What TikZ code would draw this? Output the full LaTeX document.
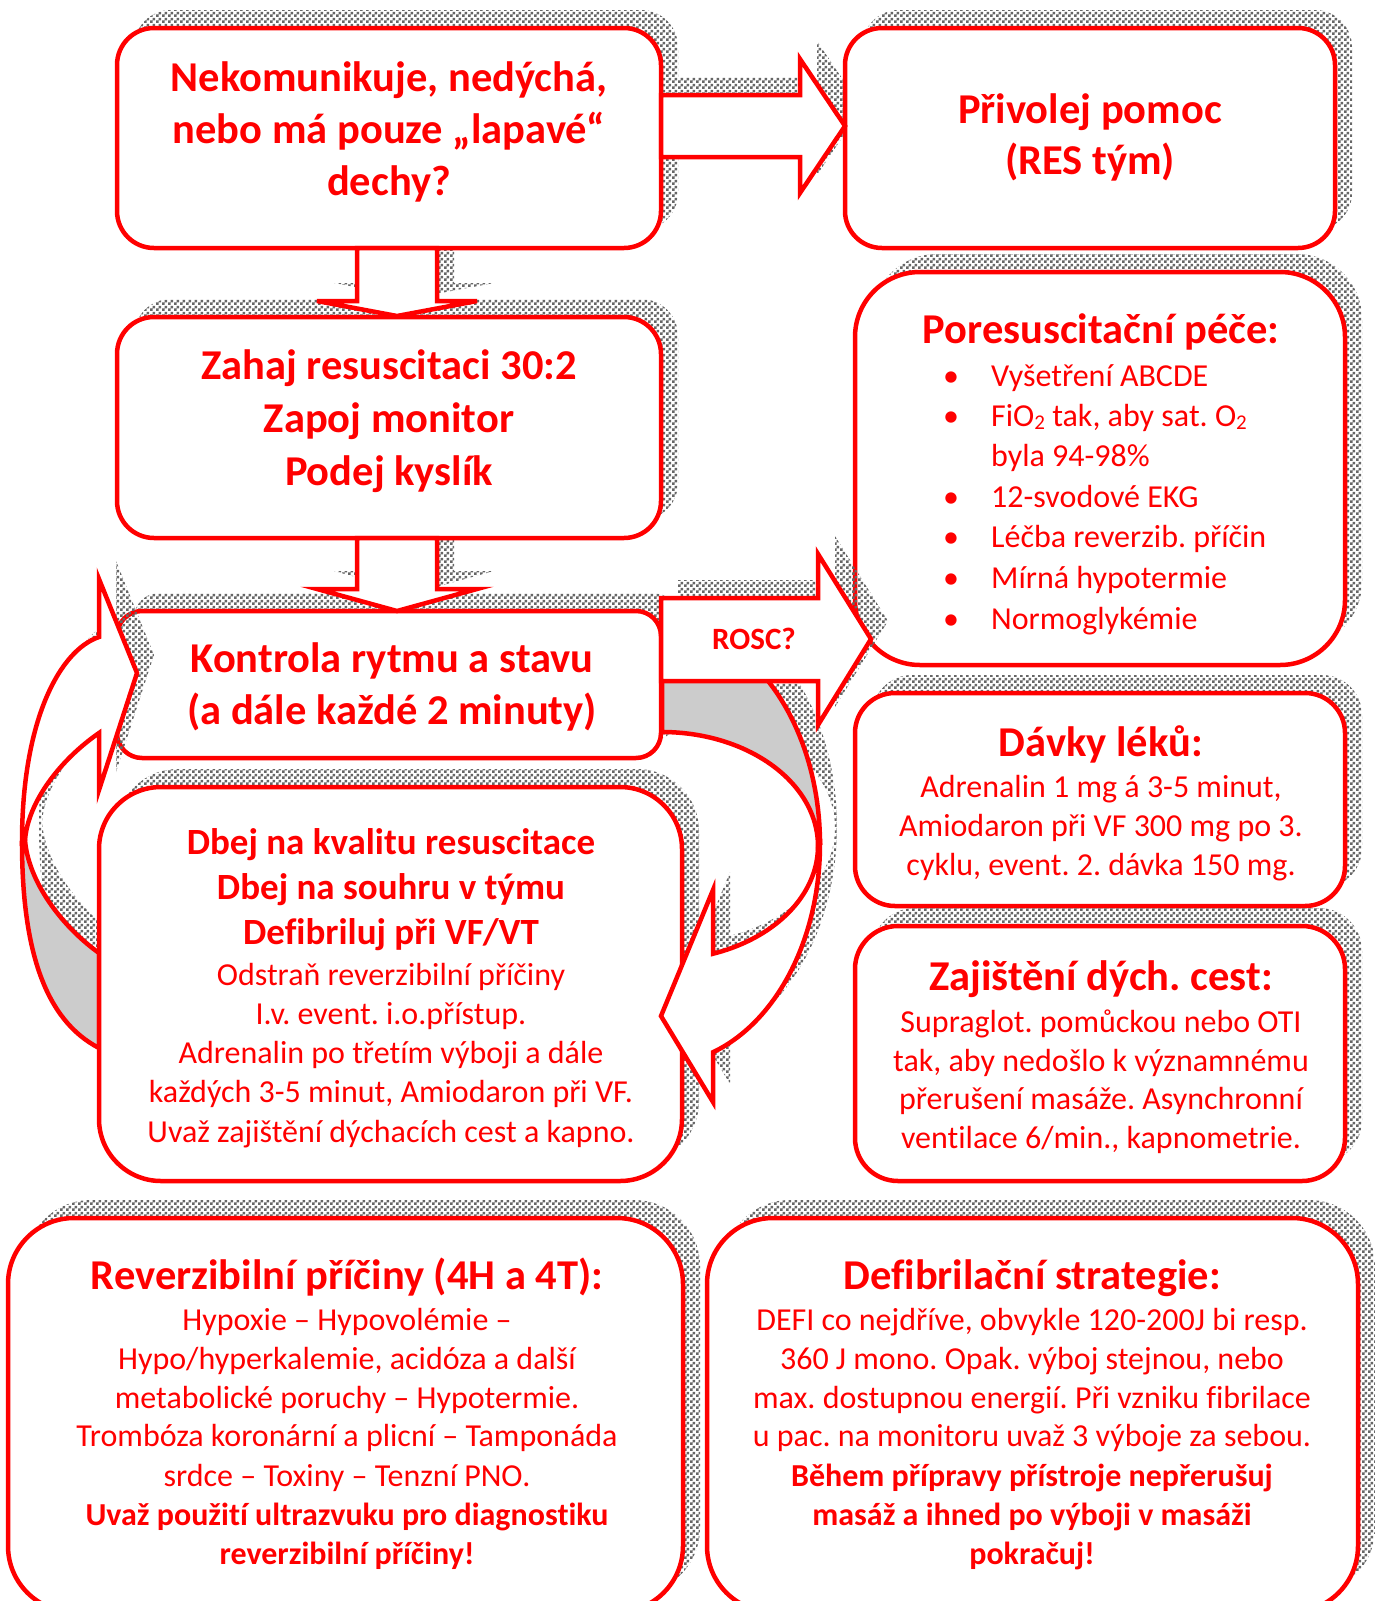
\documentclass[tikz,border=0pt]{standalone}
\usepackage{fontspec}
\setmainfont{Carlito}[Ligatures={NoCommon}]
\usetikzlibrary{patterns,shadows}
\pgfdeclarepatternformonly{fchecker}{\pgfpointorigin}{\pgfqpoint{6pt}{6pt}}{\pgfqpoint{6pt}{6pt}}{%
  \pgfpathrectangle{\pgfpointorigin}{\pgfqpoint{3pt}{3pt}}%
  \pgfpathrectangle{\pgfqpoint{3pt}{3pt}}{\pgfqpoint{3pt}{3pt}}%
  \pgfusepath{fill}}
\definecolor{rd}{RGB}{255,0,0}
\definecolor{under}{RGB}{204,204,204}
\newcommand\subtwo{{\fontsize{21}{21}\selectfont\raisebox{-3pt}{2}}}
\begin{document}
\frenchspacing
\begin{tikzpicture}[x=1pt,y=-1pt,
  sh/.style={pattern=fchecker, pattern color=black!60},
  box/.style={draw=rd, line width=4.5pt, fill=white, inner sep=0pt, outer sep=0pt,
    rounded corners=#1,
    general shadow={shadow xshift=17pt, shadow yshift=18pt, draw=none, sh}},
  arrowshape/.style={draw=rd, line width=4.5pt, fill=white, line join=miter},
  undershape/.style={draw=rd, line width=4.5pt, fill=under, line join=miter},
  hd/.style={font=\fontsize{42.5}{52}\selectfont\bfseries, text=rd, anchor=base, inner sep=0pt},
  hdb/.style={font=\fontsize{37}{45}\selectfont\bfseries, text=rd, anchor=base, inner sep=0pt},
  bd/.style={font=\fontsize{32}{39}\selectfont, text=rd, anchor=base, inner sep=0pt},
  bdb/.style={font=\fontsize{32}{39}\selectfont\bfseries, text=rd, anchor=base, inner sep=0pt},
  ]
\fill[white] (0,0) rectangle (1375,1601);
\useasboundingbox (0,0) rectangle (1375,1601);

% shadows of the straight block arrows (under the boxes)
\begin{scope}[shift={(17,-18)}]
  \fill[sh] (357,248) -- (357,301) -- (317,301) -- (397,316) -- (477,301) -- (437,301) -- (437,248) -- cycle;
  \fill[sh] (357,538) -- (357,589) -- (317,589) -- (397,611) -- (477,589) -- (437,589) -- (437,538) -- cycle;
  \fill[sh] (661,95) -- (800,95) -- (800,59) -- (845,126) -- (800,193) -- (800,157) -- (661,157) -- cycle;
\end{scope}

% boxes
\node[box=37pt, minimum width=544pt, minimum height=220pt] (b1) at (389,138) {};
\node[box=37pt, minimum width=490pt, minimum height=220pt] (b2) at (1090,138) {};
\node[box=37pt, minimum width=544pt, minimum height=221pt] (b3) at (389,427.5) {};
\node[box=25pt, minimum width=544pt, minimum height=147pt] (b4) at (389,684.5) {};
\node[box=65pt, minimum width=490pt, minimum height=393pt] (b6) at (1100,468.5) {};
\node[box=40pt, minimum width=490pt, minimum height=213pt] (b7) at (1100,799.5) {};
\node[box=43pt, minimum width=490pt, minimum height=255pt] (b8) at (1100,1053.5) {};
\node[box=66pt, minimum width=675pt, minimum height=394pt] (b9) at (345.5,1415) {};
\node[box=66pt, minimum width=651pt, minimum height=394pt] (b10) at (1032.5,1415) {};

% straight block arrows
\draw[arrowshape] (357,248) -- (357,301) -- (317,301) -- (397,316) -- (477,301) -- (437,301) -- (437,248) -- cycle;
\draw[arrowshape] (357,538) -- (357,589) -- (317,589) -- (397,611) -- (477,589) -- (437,589) -- (437,538) -- cycle;
\draw[arrowshape] (661,95) -- (800,95) -- (800,59) -- (845,126) -- (800,193) -- (800,157) -- (661,157) -- cycle;

% left curved arrow
\begin{scope}[shift={(17,-18)}]
  \fill[sh] (22,842) .. controls (22,720) and (60,650) .. (99,637) -- (99,579) -- (137,673) -- (99,790) -- (99,733)
     .. controls (60,760) and (28,802) .. (25,840) -- cycle;
  \fill[sh] (22,842) .. controls (22,950) and (45,1020) .. (99,1048) -- (99,953)
     .. controls (60,925) and (28,880) .. (25,840) -- cycle;
\end{scope}
\draw[arrowshape] (22,842) .. controls (22,720) and (60,650) .. (99,637) -- (99,579) -- (137,673) -- (99,790) -- (99,733)
   .. controls (60,760) and (28,802) .. (25,840) -- cycle;
\draw[undershape] (22,842) .. controls (22,950) and (45,1020) .. (99,1048) -- (99,953)
   .. controls (60,925) and (28,880) .. (25,840) -- cycle;

\node[box=62pt, minimum width=583pt, minimum height=394pt] (b5) at (390.5,984) {};

% right curved arrow
\begin{scope}[shift={(17,-18)}]
  \fill[sh] plot[domain=-90:0, samples=50] ({662+158*cos(\x)},{844+220*sin(\x)})
     -- plot[domain=0:-90, samples=50] ({662+156*cos(\x)},{846+114*sin(\x)}) -- cycle;
  \fill[sh] plot[domain=0:71.17, samples=50] ({662+158*cos(\x)},{844+220*sin(\x)}) -- (713,1102) -- (661,1016) -- (713,890)
     -- plot[domain=70.92:0, samples=50] ({662+156*cos(\x)},{846+114*sin(\x)}) -- cycle;
\end{scope}
\draw[undershape] plot[domain=-90:0, samples=50] ({662+158*cos(\x)},{844+220*sin(\x)})
   -- plot[domain=0:-90, samples=50] ({662+156*cos(\x)},{846+114*sin(\x)}) -- cycle;
\draw[arrowshape] plot[domain=0:71.17, samples=50] ({662+158*cos(\x)},{844+220*sin(\x)}) -- (713,1102) -- (661,1016) -- (713,890)
   -- plot[domain=70.92:0, samples=50] ({662+156*cos(\x)},{846+114*sin(\x)}) -- cycle;

% ROSC arrow
\fill[sh, shift={(17,-18)}] (661,598) -- (818,598) -- (818,554) -- (871,639) -- (818,725) -- (818,681) -- (661,681) -- cycle;
\draw[arrowshape] (661,598) -- (818,598) -- (818,554) -- (871,639) -- (818,725) -- (818,681) -- (661,681) -- cycle;
\node[font=\fontsize{31}{38}\selectfont\bfseries, text=rd, anchor=base, inner sep=0pt] (rosc) at (754,649) {ROSC?};

% texts
\node[hd] (t1a) at (389,91) {Nekomunikuje, nedýchá,};
\node[hd] (t1b) at (389,143) {nebo má pouze „lapavé“};
\node[hd] (t1c) at (389,195) {dechy?};

\node[hd] (t2a) at (1090,123) {Přivolej pomoc};
\node[hd] (t2b) at (1090,174) {(RES tým)};

\node[hd] (t3a) at (389,379) {Zahaj resuscitaci 30:2};
\node[hd] (t3b) at (389,432) {Zapoj monitor};
\node[hd] (t3c) at (389,485) {Podej kyslík};

\node[hd] (t4a) at (392,672) {Kontrola rytmu a stavu};
\node[hd] (t4b) at (392,724) {(a dále každé 2 minuty)};

\node[hdb] (t5a) at (391,854) {Dbej na kvalitu resuscitace};
\node[hdb] (t5b) at (391,899) {Dbej na souhru v týmu};
\node[hdb] (t5c) at (391,944) {Defibriluj při VF/VT};
\node[bd] (t5d) at (391,985.5) {Odstraň reverzibilní příčiny};
\node[bd] (t5e) at (391,1024.5) {I.v. event. i.o.přístup.};
\node[bd] (t5f) at (391,1063.5) {Adrenalin po třetím výboji a dále};
\node[bd] (t5g) at (391,1102.5) {každých 3-5 minut, Amiodaron při VF.};
\node[bd] (t5h) at (391,1142.5) {Uvaž zajištění dýchacích cest a kapno.};

\node[hd] (t6h) at (1101,343) {Poresuscitační péče:};
\node[bd] (t6b1) at (951,386.5) {•};
\node[bd, anchor=base west] (t6i1) at (991,386.5) {Vyšetření ABCDE};
\node[bd] (t6b2) at (951,426.5) {•};
\node[bd, anchor=base west] (t6i2) at (991,426.5) {FiO\subtwo{} tak, aby sat. O\subtwo};
\node[bd, anchor=base west] (t6i2b) at (991,466.5) {byla 94-98\%};
\node[bd] (t6b3) at (951,507.5) {•};
\node[bd, anchor=base west] (t6i3) at (991,507.5) {12-svodové EKG};
\node[bd] (t6b4) at (951,547.5) {•};
\node[bd, anchor=base west] (t6i4) at (991,547.5) {Léčba reverzib. příčin};
\node[bd] (t6b5) at (951,588.5) {•};
\node[bd, anchor=base west] (t6i5) at (991,588.5) {Mírná hypotermie};
\node[bd] (t6b6) at (951,629.5) {•};
\node[bd, anchor=base west] (t6i6) at (991,629.5) {Normoglykémie};

\node[hd] (t7h) at (1101,756) {Dávky léků:};
\node[bd] (t7a) at (1101,797.5) {Adrenalin 1 mg á 3-5 minut,};
\node[bd] (t7b) at (1101,836.5) {Amiodaron při VF 300 mg po 3.};
\node[bd] (t7c) at (1101,875.5) {cyklu, event. 2. dávka 150 mg.};

\node[hd] (t8h) at (1101,990) {Zajištění dých. cest:};
\node[bd] (t8a) at (1101,1032.5) {Supraglot. pomůckou nebo OTI};
\node[bd] (t8b) at (1101,1071.5) {tak, aby nedošlo k významnému};
\node[bd] (t8c) at (1101,1109.5) {přerušení masáže. Asynchronní};
\node[bd] (t8d) at (1101,1148.5) {ventilace 6/min., kapnometrie.};

\node[hd] (t9h) at (347,1289) {Reverzibilní příčiny (4H a 4T):};
\node[bd] (t9a) at (347,1330.5) {Hypoxie – Hypovolémie –};
\node[bd] (t9b) at (347,1369.5) {Hypo/hyperkalemie, acidóza a další};
\node[bd] (t9c) at (347,1408.5) {metabolické poruchy – Hypotermie.};
\node[bd] (t9d) at (347,1446.5) {Trombóza koronární a plicní – Tamponáda};
\node[bd] (t9e) at (347,1486.5) {srdce – Toxiny – Tenzní PNO.};
\node[bdb] (t9f) at (347,1525.5) {Uvaž použití ultrazvuku pro diagnostiku};
\node[bdb] (t9g) at (347,1564.5) {reverzibilní příčiny!};

\node[hd] (t10h) at (1032,1289) {Defibrilační strategie:};
\node[bd] (t10a) at (1032,1330.5) {DEFI co nejdříve, obvykle 120-200J bi resp.};
\node[bd] (t10b) at (1032,1369.5) {360 J mono. Opak. výboj stejnou, nebo};
\node[bd] (t10c) at (1032,1408.5) {max. dostupnou energií. Při vzniku fibrilace};
\node[bd] (t10d) at (1032,1446.5) {u pac. na monitoru uvaž 3 výboje za sebou.};
\node[bdb] (t10e) at (1032,1486.5) {Během přípravy přístroje nepřerušuj};
\node[bdb] (t10f) at (1032,1525.5) {masáž a ihned po výboji v masáži};
\node[bdb] (t10g) at (1032,1564.5) {pokračuj!};
\end{tikzpicture}
\end{document}
